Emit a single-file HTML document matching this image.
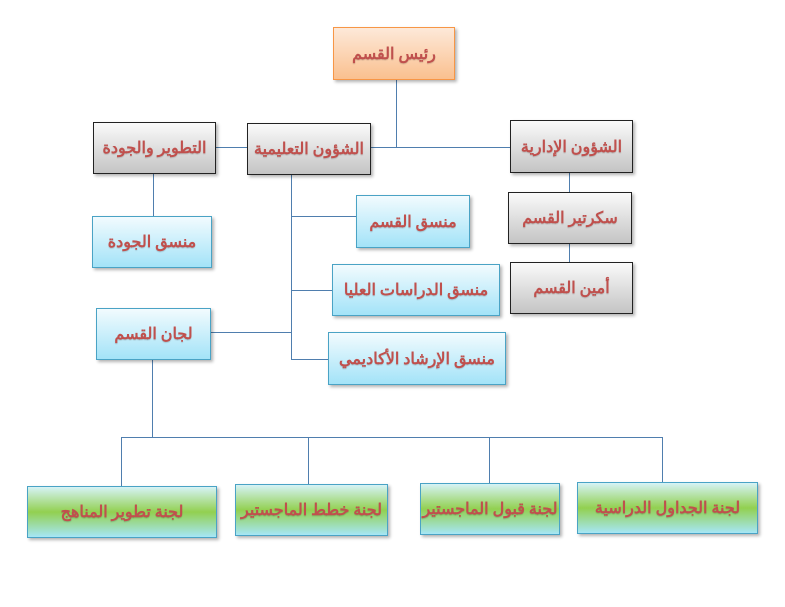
<!DOCTYPE html>
<html><head><meta charset="utf-8"><style>
body{margin:0;width:785px;height:607px;background:#fff;position:relative;overflow:hidden;font-family:"Liberation Serif","Noto Sans CJK SC",serif}
.b{position:absolute;box-sizing:border-box;display:flex;align-items:center;justify-content:center;color:#c0504d;font-weight:bold;font-size:16px;direction:rtl;text-shadow:0 1px 1px rgba(0,0,0,.15);box-shadow:2px 2px 3px rgba(0,0,0,.3)}
.o{background:linear-gradient(#fde9d9,#fac08f);border:1px solid #f79646}
.g{background:linear-gradient(#fafafa,#c4c4c4);border:1.5px solid #222}
.c{background:linear-gradient(#f2fbfe,#a3e3f8);border:1px solid #4aa3c5}
.n{background:linear-gradient(#d6f3f6 0%,#92d050 50%,#a6e6f6 100%);border:1px solid #4aa3c5}
.l{position:absolute;background:#4f7eae}
</style></head><body>
<div class="l" style="left:396px;top:80px;width:1px;height:67px"></div>
<div class="l" style="left:216px;top:147px;width:294px;height:1px"></div>
<div class="l" style="left:153px;top:174px;width:1px;height:42px"></div>
<div class="l" style="left:569px;top:173px;width:1px;height:90px"></div>
<div class="l" style="left:291px;top:175px;width:1px;height:184px"></div>
<div class="l" style="left:291px;top:216px;width:65px;height:1px"></div>
<div class="l" style="left:291px;top:290px;width:41px;height:1px"></div>
<div class="l" style="left:211px;top:332px;width:80px;height:1px"></div>
<div class="l" style="left:291px;top:359px;width:38px;height:1px"></div>
<div class="l" style="left:152px;top:360px;width:1px;height:78px"></div>
<div class="l" style="left:121px;top:437px;width:541px;height:1px"></div>
<div class="l" style="left:121px;top:437px;width:1px;height:49px"></div>
<div class="l" style="left:308px;top:437px;width:1px;height:47px"></div>
<div class="l" style="left:489px;top:437px;width:1px;height:46px"></div>
<div class="l" style="left:662px;top:437px;width:1px;height:45px"></div>

<div class="b o" style="left:333px;top:27px;width:122px;height:53px">رئيس القسم</div>
<div class="b g" style="left:93px;top:122px;width:123px;height:52px">التطوير والجودة</div>
<div class="b g" style="left:247px;top:123px;width:124px;height:52px">الشؤون التعليمية</div>
<div class="b g" style="left:510px;top:120px;width:123px;height:53px">الشؤون الإدارية</div>
<div class="b g" style="left:508px;top:192px;width:124px;height:52px">سكرتير القسم</div>
<div class="b g" style="left:510px;top:262px;width:123px;height:52px">أمين القسم</div>
<div class="b c" style="left:356px;top:195px;width:114px;height:53px">منسق القسم</div>
<div class="b c" style="left:92px;top:216px;width:120px;height:52px">منسق الجودة</div>
<div class="b c" style="left:332px;top:264px;width:168px;height:52px">منسق الدراسات العليا</div>
<div class="b c" style="left:96px;top:308px;width:115px;height:52px">لجان القسم</div>
<div class="b c" style="left:328px;top:332px;width:178px;height:53px">منسق الإرشاد الأكاديمي</div>
<div class="b n" style="left:27px;top:486px;width:190px;height:52px">لجنة تطوير المناهج</div>
<div class="b n" style="left:235px;top:484px;width:153px;height:52px">لجنة خطط الماجستير</div>
<div class="b n" style="left:420px;top:483px;width:140px;height:52px">لجنة قبول الماجستير</div>
<div class="b n" style="left:577px;top:482px;width:181px;height:52px">لجنة الجداول الدراسية</div>
</body></html>
